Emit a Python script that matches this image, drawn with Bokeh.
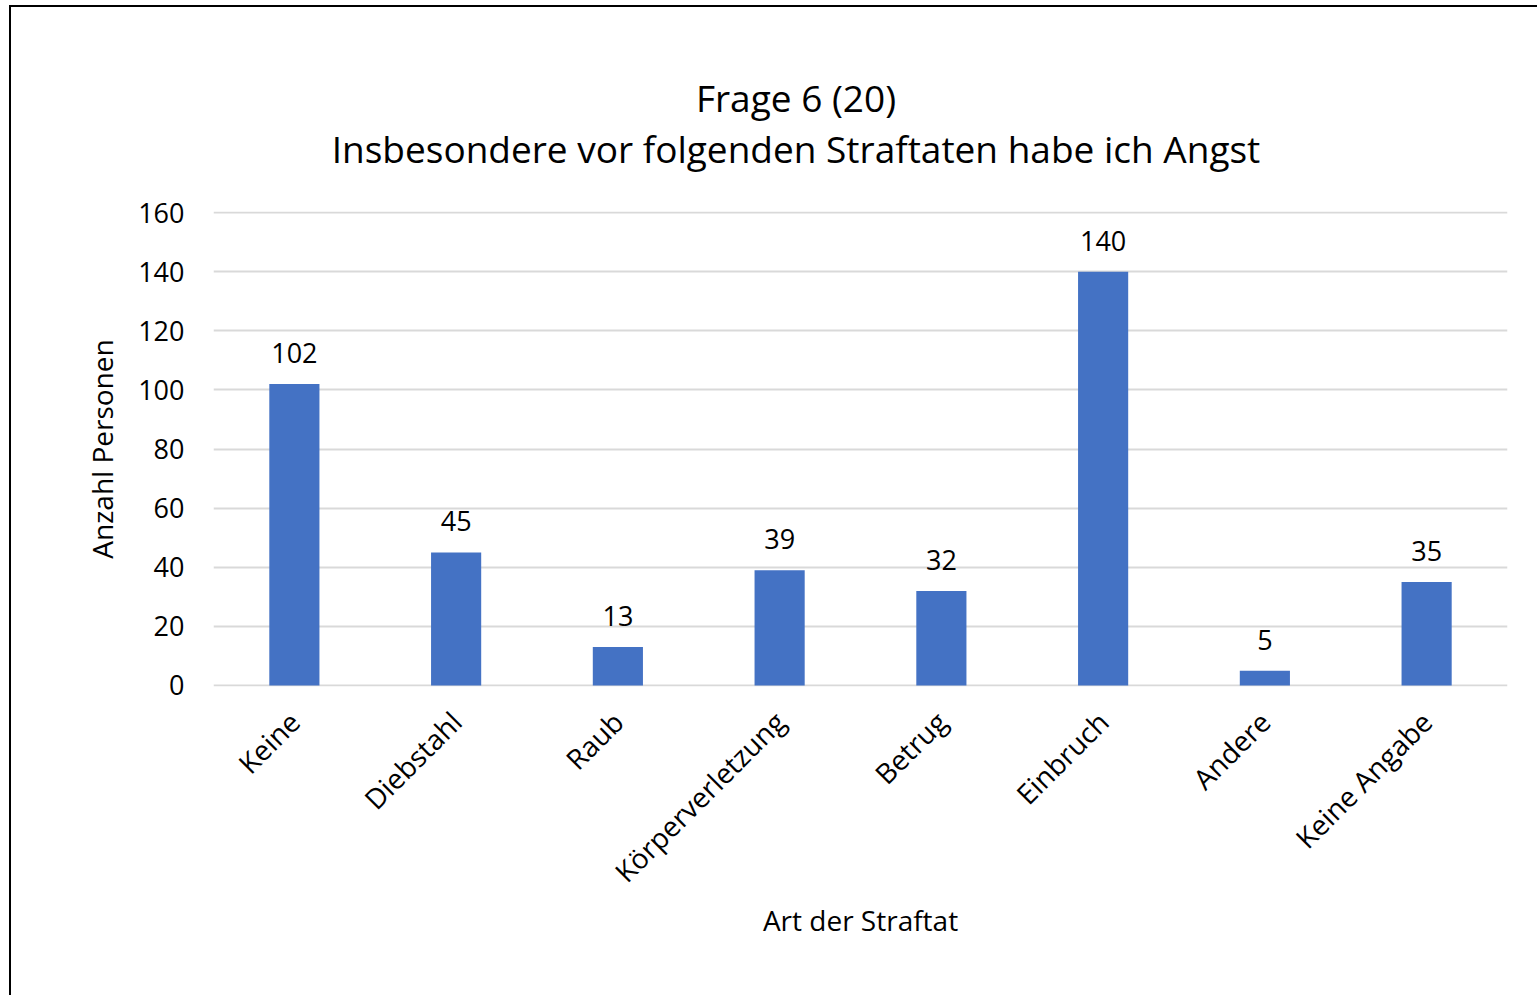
import math
from bokeh.plotting import figure
from bokeh.models import FixedTicker, ColumnDataSource, Div
from bokeh.layouts import column
from bokeh.core.properties import value
from bokeh.embed import file_html
from bokeh.resources import INLINE

categories = ["Keine", "Diebstahl", "Raub", "Körperverletzung", "Betrug",
              "Einbruch", "Andere", "Keine Angabe"]
counts = [102, 45, 13, 39, 32, 140, 5, 35]
y_ticks = [0, 20, 40, 60, 80, 100, 120, 140, 160]
title_line1 = "Frage 6 (20)"
title_line2 = "Insbesondere vor folgenden Straftaten habe ich Angst"
x_title = "Art der Straftat"
y_title = "Anzahl Personen"

FONT = "Open Sans"
TXT = "#000000"
BAR = "#4472C4"
GRID = "#D9D9D9"
W = 1535
HEADER_H = 190

src = ColumnDataSource(dict(cat=categories, n=counts, lab=[str(c) for c in counts]))

# two-line chart title, centred on the (wider) chart area, plus the chart-area border
header = Div(
    text=(
        '<div style="width:1470px;margin-left:61px;padding-top:72px;text-align:center;'
        "font-family:'Open Sans';font-size:37px;line-height:51px;color:#000;"
        'white-space:nowrap;">'
        f"{title_line1}<br>{title_line2}</div>"
        '<div style="position:fixed;left:9px;top:5px;width:4000px;height:4000px;'
        'border-left:2px solid #000;border-top:2px solid #000;'
        'pointer-events:none;z-index:10;"></div>'
    ),
    width=W, height=HEADER_H, margin=0,
)

p = figure(x_range=categories, y_range=(-0.35, 160.35),
           frame_width=1294, frame_height=475,
           min_border_left=213, min_border_right=28,
           min_border_top=211 - HEADER_H, min_border_bottom=307,
           output_backend="svg", toolbar_location=None, tools="",
           title=None, margin=0)

p.vbar(x="cat", top="n", bottom=0, width=0.31, source=src,
       fill_color=BAR, line_color=None)
p.text(x="cat", y="n", text="lab", source=src, text_align="center",
       text_baseline="alphabetic", y_offset=-31,
       text_font=value(FONT), text_font_size="27px", text_color=TXT)

p.outline_line_color = None
p.xgrid.grid_line_color = None
p.ygrid.grid_line_color = GRID
p.ygrid.grid_line_width = 2

p.yaxis.ticker = FixedTicker(ticks=y_ticks)
for ax in (p.xaxis[0], p.yaxis[0]):
    ax.axis_line_color = None
    ax.major_tick_line_color = None
    ax.minor_tick_line_color = None
    ax.major_tick_out = 0
    ax.major_tick_in = 0
    ax.major_label_text_font = FONT
    ax.major_label_text_color = TXT
    ax.axis_label_text_font = FONT
    ax.axis_label_text_font_style = "normal"
    ax.axis_label_text_color = TXT
    ax.axis_label_text_font_size = "28px"

p.yaxis.axis_label = y_title
p.yaxis.major_label_text_font_size = "27px"
p.yaxis.major_label_standoff = 29
p.yaxis.axis_label_standoff = 14

p.xaxis.axis_label = x_title
p.xaxis.major_label_text_font_size = "28px"
p.xaxis.major_label_orientation = math.pi / 4
p.xaxis.major_label_standoff = 30
p.xaxis.axis_label_standoff = -5

layout = column(header, p, spacing=0)

open("out.html", "w").write(file_html(layout, INLINE))
